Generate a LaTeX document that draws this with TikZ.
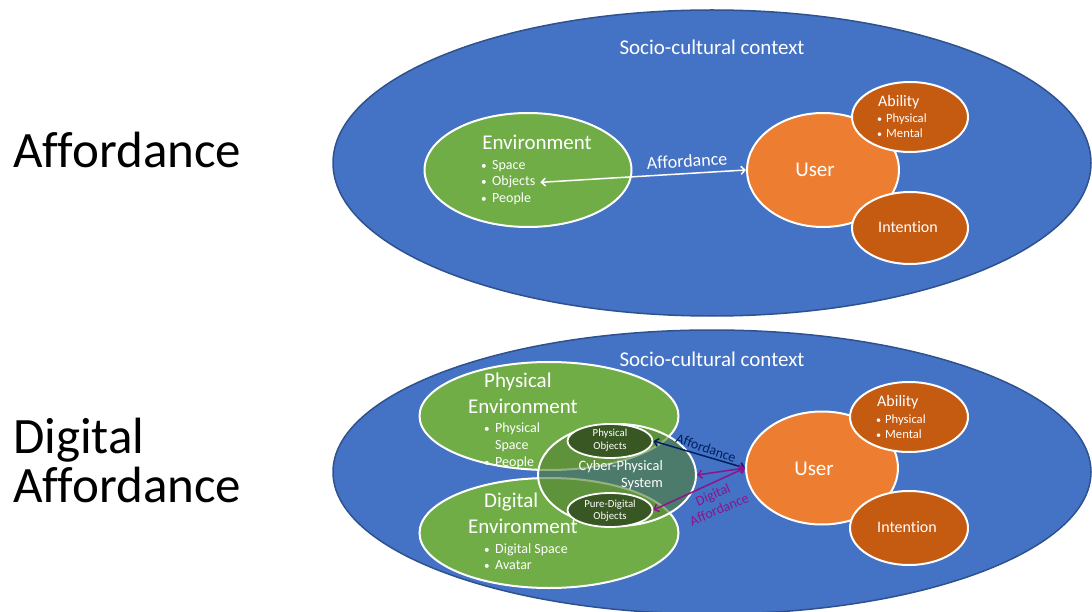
\documentclass[tikz,border=0pt]{standalone}
\usepackage{fontspec}
\setmainfont{Carlito}[Ligatures=NoCommon]
\usetikzlibrary{shapes.geometric,arrows.meta}
\definecolor{sky}{RGB}{68,114,196}
\definecolor{skyedge}{RGB}{47,82,143}
\definecolor{leaf}{RGB}{112,173,71}
\definecolor{darkleaf}{RGB}{56,87,35}
\definecolor{cpsfill}{RGB}{84,130,53}
\definecolor{tang}{RGB}{237,125,49}
\definecolor{rust}{RGB}{197,90,17}
\definecolor{navyarrow}{RGB}{0,32,96}
\definecolor{plum}{RGB}{140,20,140}
\newcommand{\bul}[1]{\makebox[#1][l]{\scalebox{0.8}{•}}}
\begin{document}
\begin{tikzpicture}[x=1pt,y=-1pt,
  ell/.style={ellipse, inner sep=0pt, draw=white, line width=2pt},
  context/.style={ellipse, inner sep=0pt, draw=skyedge, line width=1.5pt, fill=sky},
  envell/.style={ell, fill=leaf},
  objell/.style={ell, fill=darkleaf, line width=1.8pt},
  userell/.style={ell, fill=tang},
  subell/.style={ell, fill=rust},
  cpsell/.style={ell, fill=cpsfill, fill opacity=0.62},
  txt/.style={font=\fontsize{#1}{#1}\selectfont, text=white, inner sep=0pt},
  big/.style={font=\fontsize{51}{49}\selectfont, text=black, inner sep=0pt},
  barb/.style={{Straight Barb[length=4pt,width=8pt]}-{Straight Barb[length=4pt,width=8pt]}, line width=1.5pt},
]
\useasboundingbox (0,0) rectangle (1092,612);

% ---------------- top panel ----------------
\node[big, anchor=base west] (bigaff) at (13,168) {Affordance};

\node[context, minimum width=758pt, minimum height=306pt] (ctx1) at (712,163) {};
\node[txt=21, anchor=base] (socio1) at (712,55) {Socio-cultural context};

\node[envell, minimum width=207pt, minimum height=114pt] (env) at (528,170) {};
\node[txt=21, anchor=base] (envt) at (537,150) {Environment};
\node[txt=14, anchor=base west] (b1) at (481,170) {\bul{11pt}Space};
\node[txt=14, anchor=base west] (b2) at (481,186) {\bul{11pt}Objects};
\node[txt=14, anchor=base west] (b3) at (481,203) {\bul{11pt}People};

\node[userell, minimum width=152pt, minimum height=114pt] (user1) at (823,170) {};
\node[txt=21, anchor=base] (usert1) at (815,177) {User};
\node[subell, minimum width=116pt, minimum height=70pt] (abil1) at (910,117) {};
\node[txt=16, anchor=base west] (abilt1) at (878,107) {Ability};
\node[txt=12.6, anchor=base west] (ab1a) at (877,123) {\bul{9pt}Physical};
\node[txt=12.6, anchor=base west] (ab1b) at (877,138) {\bul{9pt}Mental};
\node[subell, minimum width=116pt, minimum height=72pt] (int1) at (910,228) {};
\node[txt=16, anchor=base] (intt1) at (908,233) {Intention};

\draw[barb, white] ([xshift=5pt]b2.east) -- (user1.west);
\node[txt=18, rotate=3.5] (afflab1) at (687,161) {Affordance};

% ---------------- bottom panel ----------------
\node[big, anchor=base west] (bigdig) at (13,453) {Digital};
\node[big, anchor=base west] (bigaff2) at (13,502) {Affordance};

\node[context, minimum width=758pt, minimum height=284pt] (ctx2) at (712,472) {};
\node[txt=21, anchor=base] (socio2) at (712,366) {Socio-cultural context};

\node[envell, minimum width=259pt, minimum height=108pt] (phys) at (549,416) {};
\node[envell, minimum width=259pt, minimum height=110pt] (digi) at (549,533) {};
\node[cpsell, minimum width=158pt, minimum height=102pt] (cps) at (617,475) {};
\node[objell, minimum width=85pt, minimum height=34pt] (physobj) at (610,441) {};
\node[objell, minimum width=85pt, minimum height=34pt] (pureobj) at (610,510) {};

\node[txt=21, anchor=base west] (physt) at (484,387) {Physical};
\node[txt=21, anchor=base west] (physt2) at (468,413) {Environment};
\node[txt=14, anchor=base west] (pb1) at (484,432) {\bul{11pt}Physical};
\node[txt=14, anchor=base west] (pb1b) at (495,449) {Space};
\node[txt=14, anchor=base west] (pb2) at (484,466) {\bul{11pt}People};

\node[txt=21, anchor=base west] (digt) at (484,507) {Digital};
\node[txt=21, anchor=base west] (digt2) at (468,533) {Environment};
\node[txt=14, anchor=base west] (db1) at (484,553) {\bul{11pt}Digital Space};
\node[txt=14, anchor=base west] (db2) at (484,569) {\bul{11pt}Avatar};

\node[txt=14.4, anchor=base east] (cpst1) at (663,470) {Cyber-Physical};
\node[txt=14.4, anchor=base east] (cpst2) at (663,487) {System};

\node[txt=10.8, anchor=base] (pot1) at (610,436) {Physical};
\node[txt=10.8, anchor=base] (pot2) at (610,449) {Objects};
\node[txt=10.8, anchor=base] (pdt1) at (610,507) {Pure-Digital};
\node[txt=10.8, anchor=base] (pdt2) at (610,519) {Objects};

\node[userell, minimum width=152pt, minimum height=113pt] (user2) at (822,468) {};
\node[txt=21, anchor=base] (usert2) at (814,475) {User};
\node[subell, minimum width=118pt, minimum height=70pt] (abil2) at (909,417) {};
\node[txt=16, anchor=base west] (abilt2) at (877,406) {Ability};
\node[txt=12.6, anchor=base west] (ab2a) at (876,423) {\bul{9pt}Physical};
\node[txt=12.6, anchor=base west] (ab2b) at (876,438) {\bul{9pt}Mental};
\node[subell, minimum width=118pt, minimum height=74pt] (int2) at (909,528) {};
\node[txt=16, anchor=base] (intt2) at (907,532) {Intention};

\draw[barb, navyarrow] (physobj.east) -- (user2.west);
\draw[barb, plum] (cps.east) -- (user2.west);
\draw[barb, plum] (pureobj.east) -- (user2.west);
\node[txt=14, text=navyarrow, rotate=-19] (afflab2) at (706,448) {Affordance};
\node[txt=14, text=plum, rotate=23, align=center, font=\fontsize{14}{16}\selectfont] (diglab) at (716,502) {Digital\\Affordance};
\end{tikzpicture}
\end{document}
